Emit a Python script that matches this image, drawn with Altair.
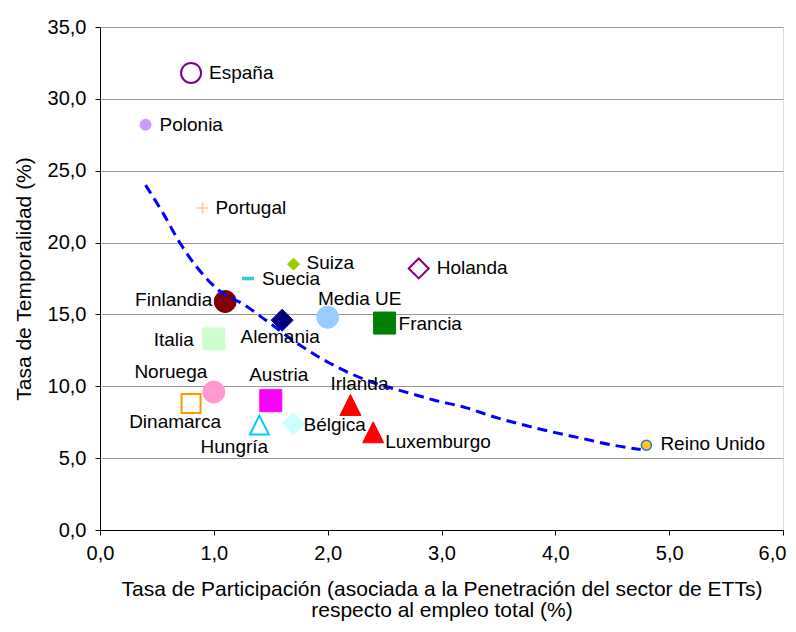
import altair as alt
import pandas as pd

# ---------------- data ----------------
paises = ["España", "Polonia", "Portugal", "Suiza", "Suecia", "Holanda",
          "Finlandia", "Alemania", "Media UE", "Francia", "Italia", "Noruega",
          "Dinamarca", "Austria", "Hungría", "Bélgica", "Irlanda",
          "Luxemburgo", "Reino Unido"]
participacion = [0.8, 0.4, 0.9, 1.7, 1.3, 2.8, 1.1, 1.6, 2.0, 2.5, 1.0, 1.0,
                 0.8, 1.5, 1.4, 1.7, 2.2, 2.4, 4.8]
temporalidad = [31.8, 28.2, 22.4, 18.5, 17.5, 18.2, 15.9, 14.6, 14.8, 14.4,
                13.3, 9.6, 8.8, 9.0, 7.3, 7.4, 8.7, 6.8, 5.9]

# trend line
tendencia_x = [0.40, 0.55, 0.70, 0.85, 1.04, 1.26, 1.49, 1.73, 2.02, 2.35,
               2.64, 2.93, 3.22, 3.49, 3.63, 3.93, 4.22, 4.51, 4.75]
tendencia_y = [24.0, 22.1, 20.0, 18.3, 16.7, 15.7, 14.4, 13.0, 11.6, 10.4,
               9.7, 9.05, 8.5, 7.8, 7.5, 6.9, 6.4, 5.9, 5.6]

y_ticks = [0, 5, 10, 15, 20, 25, 30, 35]
x_ticks = [0, 1, 2, 3, 4, 5, 6]

# ---------------- marker styles ----------------
TRI = "M0,-1L1,1L-1,1Z"
PLUS = "M-1,0L1,0M0,-1L0,1"
DASH = "M-1,0L1,0"
NONE = "transparent"
estilo = {
    "España":      ("circle", 400, NONE, "#800080", 2),
    "Polonia":     ("circle", 121, "#CC99FF", "#CC99FF", 1),
    "Portugal":    (PLUS, 144, NONE, "#FFC896", 1.5),
    "Suiza":       ("diamond", 144, "#99CC00", "#99CC00", 1),
    "Suecia":      (DASH, 144, NONE, "#33CCCC", 3.5),
    "Holanda":     ("diamond", 400, NONE, "#800080", 2),
    "Finlandia":   ("circle", 484, "#800000", "#800000", 1),
    "Alemania":    ("diamond", 484, "#000080", "#000080", 1),
    "Media UE":    ("circle", 484, "#99CCFF", "#99CCFF", 1),
    "Francia":     ("square", 484, "#008000", "#008000", 1),
    "Italia":      ("square", 484, "#CCFFCC", "#CCFFCC", 1),
    "Noruega":     ("circle", 484, "#FF99CC", "#FF99CC", 1),
    "Dinamarca":   ("square", 361, NONE, "#FF9900", 2),
    "Austria":     ("square", 484, "#FF00FF", "#FF00FF", 1),
    "Hungría":     (TRI, 361, NONE, "#00CCFF", 2),
    "Bélgica":     ("diamond", 484, "#CCFFFF", "#CCFFFF", 1),
    "Irlanda":     (TRI, 441, "#FF0000", "#FF0000", 1),
    "Luxemburgo":  (TRI, 441, "#FF0000", "#FF0000", 1),
    "Reino Unido": ("circle", 100, "#FFCC00", "#3366FF", 1.5),
}
# label placement: (align, dx, dy)
etiqueta = {
    "España": ("left", 18, 0), "Polonia": ("left", 14, 0),
    "Portugal": ("left", 13, 0), "Suiza": ("left", 13, -1),
    "Suecia": ("left", 14, 0), "Holanda": ("left", 18, 0),
    "Finlandia": ("right", -13, -1), "Alemania": ("center", -2, 17),
    "Media UE": ("center", 32, -18), "Francia": ("left", 14, 1),
    "Italia": ("right", -20, 1), "Noruega": ("center", -43, -20),
    "Dinamarca": ("center", -16, 18), "Austria": ("center", 8, -26),
    "Hungría": ("center", -25, 22), "Bélgica": ("left", 10, 1),
    "Irlanda": ("center", 9, -21), "Luxemburgo": ("left", 12, 10),
    "Reino Unido": ("left", 14, -1),
}

df = pd.DataFrame({"pais": paises, "x": participacion, "y": temporalidad})
df["shape"] = [estilo[p][0] for p in paises]
df["size"] = [estilo[p][1] for p in paises]
df["fill"] = [estilo[p][2] for p in paises]
df["stroke"] = [estilo[p][3] for p in paises]
df["sw"] = [estilo[p][4] for p in paises]

trend = pd.DataFrame({"x": tendencia_x, "y": tendencia_y})

FONT = "Liberation Sans"
FS = 19      # point labels
TICK_FS = 20
TITLE_FS = 21

xscale = alt.Scale(domain=[0, 6], nice=False, zero=False)
yscale = alt.Scale(domain=[0, 35], nice=False, zero=False)

x_axis = alt.Axis(
    values=x_ticks, labelExpr="replace(format(datum.value, '.1f'), '.', ',')",
    grid=False, title=["Tasa de Participación (asociada a la Penetración del sector de ETTs)",
                       "respecto al empleo total (%)"],
    domainColor="black", tickColor="black", tickSize=5, labelPadding=8,
    labelOffset={"condition": {"test": "datum.value == 6", "value": -11}, "value": 0},
    titlePadding=15, labelFontSize=TICK_FS, titleFontSize=TITLE_FS, labelFont=FONT,
    titleFont=FONT, titleFontWeight="normal", labelColor="black",
    titleColor="black", titleLineHeight=21, labelFlush=False)
y_axis = alt.Axis(
    values=y_ticks, labelExpr="replace(format(datum.value, '.1f'), '.', ',')",
    grid=True, gridColor="#999999", gridWidth=1, title="Tasa de Temporalidad (%)",
    domainColor="black", tickColor="black", tickSize=5, labelPadding=9,
    titlePadding=13, labelFontSize=TICK_FS, titleFontSize=TITLE_FS, labelFont=FONT,
    titleFont=FONT, titleFontWeight="normal", labelColor="black",
    titleColor="black", labelFlush=False)

points = alt.Chart(df).mark_point(filled=True, opacity=1).encode(
    x=alt.X("x:Q", scale=xscale, axis=x_axis),
    y=alt.Y("y:Q", scale=yscale, axis=y_axis),
    shape=alt.Shape("shape:N", scale=None),
    size=alt.Size("size:Q", scale=None),
    fill=alt.Fill("fill:N", scale=None),
    stroke=alt.Stroke("stroke:N", scale=None),
    strokeWidth=alt.StrokeWidth("sw:Q", scale=None),
)

line = alt.Chart(trend).mark_line(
    color="#0000FF", strokeWidth=3, strokeDash=[10, 6], interpolate="monotone"
).encode(x=alt.X("x:Q", scale=xscale), y=alt.Y("y:Q", scale=yscale))

labels = []
for p in paises:
    al, dx, dy = etiqueta[p]
    labels.append(
        alt.Chart(df).transform_filter(alt.datum.pais == p).mark_text(
            align=al, baseline="middle", dx=dx, dy=dy, font=FONT,
            fontSize=FS, color="black"
        ).encode(x=alt.X("x:Q", scale=xscale), y=alt.Y("y:Q", scale=yscale),
                 text="pais:N")
    )

chart = alt.layer(points, line, *labels).properties(
    width=683, height=503,
    autosize=alt.AutoSizeParams(type="none"),
    padding={"left": 92, "top": 19, "right": 5, "bottom": 94},
).configure_view(stroke="black", strokeWidth=1).configure(background="white")

chart.save("out.html", embed_options={"renderer": "svg", "actions": False})
